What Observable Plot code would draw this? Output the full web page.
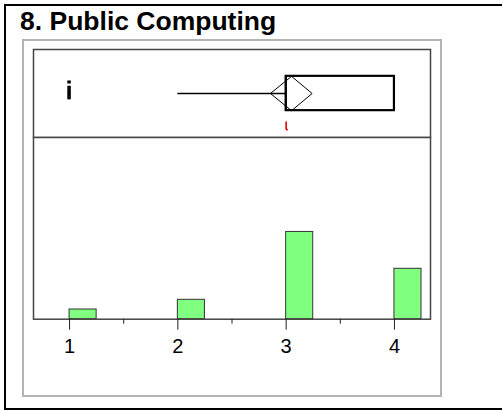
<!DOCTYPE html>
<html>
<head>
<meta charset="utf-8">
<script src="https://cdn.jsdelivr.net/npm/d3@7"></script>
<script src="https://cdn.jsdelivr.net/npm/@observablehq/plot@0.6"></script>
<style>
  html, body { margin: 0; padding: 0; background: #fff; }
  body { width: 502px; height: 410px; position: relative; overflow: hidden; font-family: "Liberation Sans", Arial, sans-serif; }
  #outer { position: absolute; left: 4px; top: 4px; width: 498px; height: 402px; border-top: 2px solid #000; border-left: 2px solid #000; border-bottom: 2px solid #000; box-sizing: content-box; }
  #title { position: absolute; left: 20px; top: 8px; font-size: 26.5px; line-height: 26px; font-weight: bold; color: #000; white-space: nowrap; }
  #gray { position: absolute; left: 22px; top: 39px; width: 416px; height: 354px; border: 2px solid #b4b4b4; }
  #box { position: absolute; left: 0; top: 48px; }
  #hist { position: absolute; left: 0; top: 136px; }
  #hist svg text { font-size: 20px !important; font-family: "Liberation Sans", Arial, sans-serif !important; }
</style>
</head>
<body>
<div id="outer"></div>
<div id="title">8. Public Computing</div>
<div id="gray"></div>
<div id="box"></div>
<div id="hist"></div>
<script>
// ---- data ----
const categories = [1, 2, 3, 4];
const counts = [5, 10, 45, 26];
const majorTicks = [1, 2, 3, 4];
const minorTicks = [1.5, 2.5, 3.5];
// box plot summary: lower whisker, q1, median, q3, upper whisker
const boxStats = [2, 3, 3, 4, 4];
const outlierValue = 1;
const outlierOffsets = [0.25, 0.13, 0.07, 0.01, -0.05, -0.11];
// mean diamond: lower CI, mean, upper CI
const meanDiamond = [2.855, 3.05, 3.24];
// shortest half
const shortestHalf = [3, 3];

const xDomain = [0.667, 4.333];
const W = 502, ML = 33, MR = 72;
const barWidth = 0.25;

// ---- box panel ----
const [lw, q1, med, q3, uw] = boxStats;
const hh = 0.39;
const diamond = [
  {x: meanDiamond[0], y: 0}, {x: meanDiamond[1], y: hh},
  {x: meanDiamond[2], y: 0}, {x: meanDiamond[1], y: -hh},
  {x: meanDiamond[0], y: 0}
];
const boxPlot = Plot.plot({
  width: W, height: 90,
  marginLeft: ML, marginRight: MR, marginTop: 1, marginBottom: 1,
  x: {domain: xDomain, axis: null},
  y: {domain: [-1, 1], axis: null},
  marks: [
    Plot.frame({stroke: "#444", strokeWidth: 1.5}),
    Plot.ruleY([0], {x1: lw, x2: q1, stroke: "#000", strokeWidth: 1.5}),
    Plot.ruleY([0], {x1: q3, x2: uw, stroke: "#000", strokeWidth: 1.5}),
    Plot.line(diamond, {x: "x", y: "y", stroke: "#000", strokeWidth: 1}),
    Plot.rect([boxStats], {x1: d => d[1], x2: d => d[3], y1: -hh, y2: hh, fill: "none", stroke: "#000", strokeWidth: 2.2}),
    Plot.ruleX([med], {y1: -hh, y2: hh, stroke: "#000", strokeWidth: 1.5}),
    Plot.rect(outlierOffsets, {x1: () => outlierValue - 0.016, x2: () => outlierValue + 0.016, y1: d => d - 0.035, y2: d => d + 0.035, fill: "#000"}),
    Plot.ruleX([shortestHalf[0]], {y1: -0.65, y2: -0.82, stroke: "#e00000", strokeWidth: 1.6}),
    Plot.ruleY([-0.82], {x1: shortestHalf[0], x2: shortestHalf[1] + 0.02, stroke: "#e00000", strokeWidth: 1.6})
  ]
});
document.getElementById("box").appendChild(boxPlot);

// ---- histogram ----
const bars = categories.map((c, i) => ({x1: c, x2: c + barWidth, count: counts[i]}));
const hist = Plot.plot({
  width: W, height: 259,
  marginLeft: ML, marginRight: MR, marginTop: 1, marginBottom: 76.3,
  x: {domain: xDomain},
  y: {domain: [0, 93.7], axis: null},
  style: {fontFamily: "'Liberation Sans', Arial, sans-serif", color: "#000", fontSize: "20px"},
  marks: [
    Plot.rectY(bars, {x1: "x1", x2: "x2", y: "count", fill: "#80ff80", stroke: "#333", strokeWidth: 1, inset: 0}),
    Plot.frame({stroke: "#444", strokeWidth: 1.5}),
    Plot.axisX({ticks: majorTicks, tickSize: 11, tickPadding: 9, tickFormat: d => String(d), fontSize: 20, stroke: "#222", fill: "#000", label: null}),
    Plot.axisX({ticks: minorTicks, tickSize: 5, tickFormat: () => "", stroke: "#222", label: null})
  ]
});
document.getElementById("hist").appendChild(hist);
</script>
</body>
</html>
